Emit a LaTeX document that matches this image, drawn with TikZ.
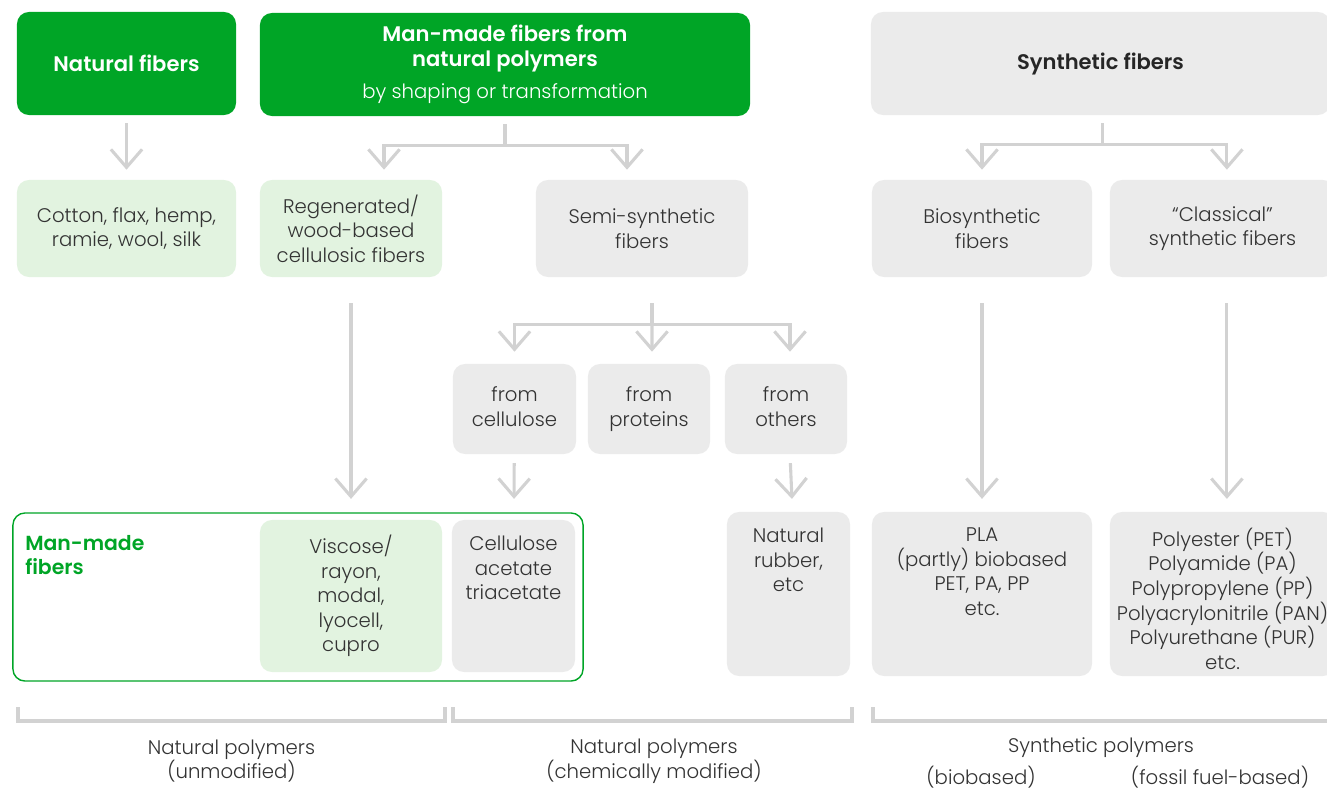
\documentclass[tikz,border=0pt]{standalone}
\usepackage{fontspec}
\setmainfont{Poppins}[UprightFont=* Light, BoldFont=* SemiBold]
\usetikzlibrary{arrows.meta,positioning}

\definecolor{fibgreen}{HTML}{00A526}
\definecolor{fiblight}{HTML}{E2F3E0}
\definecolor{fibgray}{HTML}{EBEBEB}
\definecolor{linegray}{HTML}{D2D2D2}
\definecolor{fibtext}{HTML}{333333}

\begin{document}
\begin{tikzpicture}[
    x=0.025cm, y=-0.025cm,
    font=\fontsize{14}{17.5}\selectfont, text=fibtext,
    head/.style={rectangle, fill=fibgreen, text=white, rounded corners=0.3cm, align=center, minimum height=2.575cm, font=\fontsize{15}{18}\selectfont\bfseries},
    grayhead/.style={head, fill=fibgray, text=black!85},
    greenbox/.style={rectangle, fill=fiblight, rounded corners=0.3cm, align=center},
    graybox/.style={rectangle, fill=fibgray, rounded corners=0.3cm, align=center},
    boxtext/.style={inner sep=0pt, align=center},
    arrow/.style={draw=linegray, line width=2.2pt, -{Straight Barb[length=0.45cm, width=0.78cm]}},
    bracket/.style={draw=linegray, line width=2.2pt}
]
\useasboundingbox (0,0) rectangle (1327,789);

% top row
\node[head, minimum width=5.475cm] (natfib) at (126.5,63.5) {Natural fibers};
\node[head, minimum width=12.25cm] (manmade) at (505,64.5) {Man-made fibers from\\natural polymers\\[5pt]{\mdseries\fontsize{14}{17.5}\selectfont by shaping or transformation}};
\node[grayhead, minimum width=11.475cm] (synfib) at (1100.5,63.5) {Synthetic fibers};

% second row
\node[greenbox, minimum width=5.475cm, minimum height=2.425cm] (cotton) at (126.5,228.5) {Cotton, flax, hemp,\\ramie, wool, silk};
\node[greenbox, minimum width=4.55cm, minimum height=2.425cm] (regen) at (351,228.5) {Regenerated/\\wood-based\\cellulosic fibers};
\node[graybox, minimum width=5.3cm, minimum height=2.425cm] (semi) at (642,228.5) {Semi-synthetic\\fibers};
\node[graybox, minimum width=5.5cm, minimum height=2.425cm] (bio) at (982,228.5) {Biosynthetic\\fibers};
\node[graybox, minimum width=5.625cm, minimum height=2.425cm] (classic) at (1222.5,228.5) {``Classical''\\synthetic fibers};

% third row
\node[graybox, minimum width=3.075cm, minimum height=2.25cm] (fromcell) at (514.5,409) {\strut from\\cellulose\strut};
\node[graybox, minimum width=3.05cm, minimum height=2.25cm] (fromprot) at (649,409) {\strut from\\proteins\strut};
\node[graybox, minimum width=3.05cm, minimum height=2.25cm] (fromoth) at (786,409) {\strut from\\others\strut};

% fourth row
\node[draw=fibgreen, line width=1pt, rounded corners=0.3cm, minimum width=14.25cm, minimum height=4.2cm] (mmframe) at (298,597) {};
\node[anchor=north west, inner sep=0pt, align=left, text=fibgreen, font=\fontsize{14.5}{17.5}\selectfont\bfseries] (mmlabel) at (25,535) {Man-made\\fibers};
\node[greenbox, minimum width=4.55cm, minimum height=3.8cm] (viscose) at (351,596) {Viscose/\\rayon,\\modal,\\lyocell,\\cupro};
\node[graybox, minimum width=3.075cm, minimum height=3.8cm] (cellace) at (513.5,596) {};
\node[graybox, minimum width=3.075cm, minimum height=4.1cm] (rubber) at (788.5,594) {};
\node[graybox, minimum width=5.5cm, minimum height=4.1cm] (pla) at (982,594) {};
\node[graybox, minimum width=5.625cm, minimum height=4.1cm] (polyester) at (1222.5,594) {};

\node[boxtext, below=0.4cm of cellace.north] (celltxt) {Cellulose\\acetate\\triacetate};
\node[boxtext, below=0.4cm of rubber.north] (rubbertxt) {Natural\\rubber,\\etc};
\node[boxtext, below=0.4cm of pla.north] (platxt) {PLA\\(partly) biobased\\PET, PA, PP\\etc.};
\node[boxtext, below=0.4cm of polyester.north] (polytxt) {Polyester (PET)\\Polyamide (PA)\\Polypropylene (PP)\\Polyacrylonitrile (PAN)\\Polyurethane (PUR)\\etc.};

% arrows
\draw[arrow, shorten <=0.2cm, shorten >=0.25cm] (natfib) -- (cotton);
\draw[arrow, shorten <=0.2cm, shorten >=0.25cm] (manmade.south) -- ++(0,29) -| ([xshift=0.825cm]regen.north);
\draw[arrow, shorten <=0.2cm, shorten >=0.25cm] (manmade.south) -- ++(0,29) -| ([xshift=-0.375cm]semi.north);
\draw[arrow, shorten <=0.2cm, shorten >=0.25cm] ([xshift=0.04cm]synfib.south) -- ++(0,29) -| (bio.north);
\draw[arrow, shorten <=0.2cm, shorten >=0.25cm] ([xshift=0.04cm]synfib.south) -- ++(0,29) -| ([xshift=0.11cm]classic.north);

\draw[arrow, shorten <=0.65cm, shorten >=0.3cm] ([xshift=0.25cm]semi.south) -- ++(0,47) -| (fromcell.north);
\draw[arrow, shorten <=0.65cm, shorten >=0.3cm] ([xshift=0.25cm]semi.south) -- ++(0,47) -| ([xshift=0.1cm]fromoth.north);
\draw[arrow, shorten <=0.65cm, shorten >=0.3cm] ([xshift=0.25cm]semi.south) -- ([xshift=0.075cm]fromprot.north);

\draw[arrow, shorten <=0.65cm, shorten >=0.52cm] (regen) -- (viscose);
\draw[arrow, shorten <=0.22cm, shorten >=0.52cm] (fromcell) -- (cellace);
\draw[arrow, shorten <=0.22cm, shorten >=0.32cm] ([xshift=0.1cm]fromoth.south) -- ([xshift=0.1cm]rubber.north);
\draw[arrow, shorten <=0.65cm, shorten >=0.32cm] (bio) -- (pla);
\draw[arrow, shorten <=0.65cm, shorten >=0.32cm] ([xshift=0.11cm]classic.south) -- ([xshift=0.11cm]polyester.north);

% brackets and polymer labels
\draw[bracket] (18,707) |- (445,721) -- (445,707);
\draw[bracket] (453,707) |- (852,721) -- (852,707);
\draw[bracket] (873,707) |- (1340,721);

\node[align=center] (natunmod) at (231.5,761) {Natural polymers\\(unmodified)};
\node[align=center] (natmod) at (654,761) {Natural polymers\\(chemically modified)};
\node (synpoly) at (1101,748) {Synthetic polymers};
\node (synbio) at (981,777) {(biobased)};
\node (synfossil) at (1220,777) {(fossil fuel-based)};

\end{tikzpicture}
\end{document}
